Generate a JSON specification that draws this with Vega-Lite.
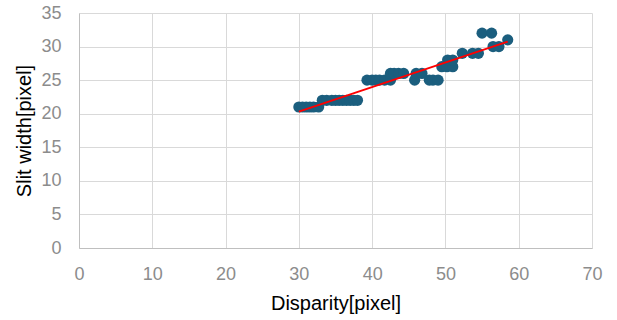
{
  "$schema": "https://vega.github.io/schema/vega-lite/v6.json",
  "autosize": "none",
  "width": 513,
  "height": 235,
  "padding": {"left": 79, "top": 13, "right": 25, "bottom": 72},
  "background": "white",
  "config": {"view": {"stroke": null}, "font": "Liberation Sans"},
  "data": {"values": [
    {"d": 30, "s": 21}, {"d": 30.5, "s": 21}, {"d": 31, "s": 21}, {"d": 31.5, "s": 21}, {"d": 32, "s": 21}, {"d": 32.7, "s": 21},
    {"d": 33.2, "s": 22}, {"d": 33.8, "s": 22}, {"d": 34.5, "s": 22}, {"d": 35, "s": 22}, {"d": 35.5, "s": 22}, {"d": 36, "s": 22}, {"d": 36.5, "s": 22}, {"d": 37, "s": 22}, {"d": 37.5, "s": 22}, {"d": 38, "s": 22},
    {"d": 39.3, "s": 25}, {"d": 40, "s": 25}, {"d": 40.5, "s": 25}, {"d": 41, "s": 25}, {"d": 41.7, "s": 25}, {"d": 42.5, "s": 25}, {"d": 45.8, "s": 25}, {"d": 47.8, "s": 25}, {"d": 48.3, "s": 25}, {"d": 49, "s": 25},
    {"d": 42.5, "s": 26}, {"d": 43, "s": 26}, {"d": 43.6, "s": 26}, {"d": 44.3, "s": 26}, {"d": 46, "s": 26}, {"d": 46.8, "s": 26},
    {"d": 49.5, "s": 27}, {"d": 50.2, "s": 27}, {"d": 51, "s": 27},
    {"d": 50.3, "s": 28}, {"d": 51, "s": 28},
    {"d": 52.3, "s": 29}, {"d": 53.7, "s": 29}, {"d": 54.5, "s": 29},
    {"d": 56.5, "s": 30}, {"d": 57.3, "s": 30},
    {"d": 58.5, "s": 31},
    {"d": 55, "s": 32}, {"d": 56.3, "s": 32}
  ]},
  "encoding": {
    "x": {"field": "d", "type": "quantitative", "scale": {"domain": [0, 70], "nice": false},
      "axis": {"title": "Disparity[pixel]", "values": [0,10,20,30,40,50,60,70], "grid": true, "gridColor": "#d9d9d9", "domainColor": "#bfbfbf", "ticks": false, "labelOverlap": false, "labelFlush": false, "labelFontSize": 18, "labelColor": "#8c8c8c", "labelPadding": 17, "titleFontSize": 20, "titleFontWeight": "normal", "titleColor": "#000000", "titlePadding": 10}},
    "y": {"field": "s", "type": "quantitative", "scale": {"domain": [0, 35], "nice": false},
      "axis": {"title": "Slit width[pixel]", "values": [0,5,10,15,20,25,30,35], "grid": true, "gridColor": "#d9d9d9", "domainColor": "#bfbfbf", "ticks": false, "labelOverlap": false, "labelFlush": false, "labelFontSize": 18, "labelColor": "#8c8c8c", "labelPadding": 18, "titleFontSize": 20, "titleFontWeight": "normal", "titleColor": "#000000", "titlePadding": 6}}
  },
  "layer": [
    {
      "mark": {"type": "point", "filled": true, "size": 125, "opacity": 1, "color": "#1b5e7e"}
    },
    {
      "transform": [{"regression": "s", "on": "d"}],
      "mark": {"type": "line", "color": "#ff0000", "strokeWidth": 2}
    }
  ]
}
